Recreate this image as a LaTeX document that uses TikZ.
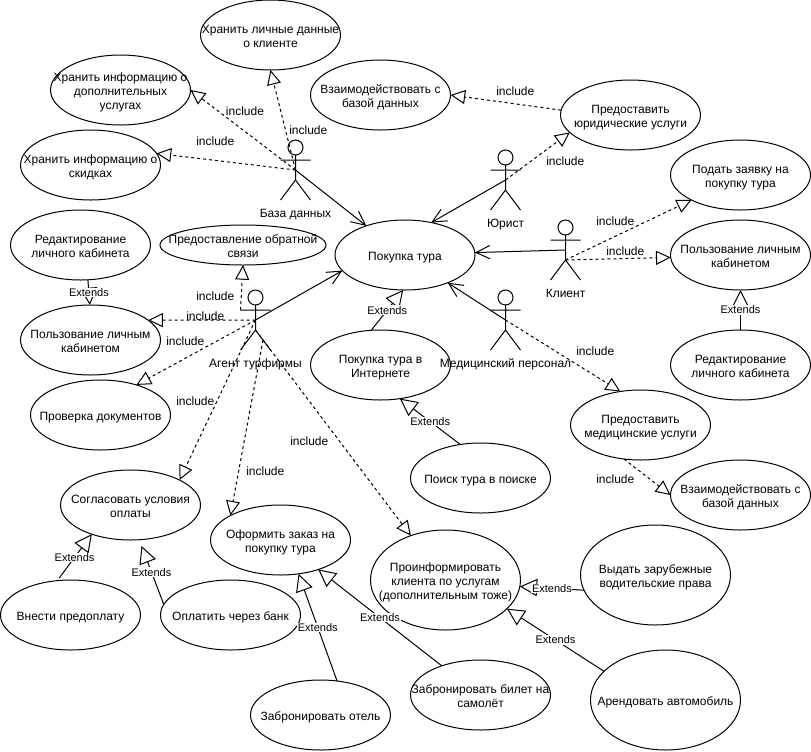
\documentclass[tikz,border=0pt]{standalone}
\usepackage{fontspec}
\setmainfont{Liberation Sans}
\usetikzlibrary{arrows.meta, positioning, shapes.geometric}

\newcommand{\umlactor}[4]{%
  \begin{scope}[shift={(#2,#3)}]
    \coordinate (#1) at (0,0);
    \coordinate (#1-hip) at (0,10);
    \coordinate (#1-arm) at (-15,-10);
    \coordinate (#1-leg) at (7.5,20);
    \draw[actorline] (0,-22.5) circle[radius=7.5];
    \draw[actorline] (0,-15) -- (0,10) (-15,-10) -- (15,-10)
      (-15,30) -- (0,10) -- (15,30);
    \node[actorlabel] (#1-label) at (0,43) {#4};
  \end{scope}}

\begin{document}
\begin{tikzpicture}[
  x=0.75pt, y=-0.75pt,
  line width=0.75pt,
  usecase/.style={ellipse, draw, inner sep=-40pt, outer sep=0pt,
                  minimum width=105pt, minimum height=52.5pt, align=center,
                  font=\fontsize{9}{10.5}\selectfont,
                  execute at begin node={\rule[-2.5pt]{0pt}{\dimexpr#1+2.5pt\relax}}},
  usecase/.default=10.5pt,
  bigcase/.style={usecase=#1, minimum width=112.5pt, minimum height=75pt},
  bigcase/.default=10.5pt,
  actorline/.style={line width=0.75pt},
  actorlabel/.style={inner sep=0pt, text height=6.5pt, text depth=0pt,
                     font=\fontsize{9}{10.5}\selectfont},
  inclabel/.style={inner sep=0pt, text height=6.5pt, text depth=0pt,
                   font=\fontsize{9}{10.5}\selectfont},
  extlabel/.style={fill=white, inner sep=0.5pt, font=\fontsize{8.25}{9.5}\selectfont},
  assoc/.style={-{Straight Barb[length=10.5pt, width=10pt]}},
  incl/.style={-{Triangle[open, length=11pt, width=10.5pt]},
               dash pattern=on 2.25pt off 2.25pt},
  ext/.style={-{Triangle[open, length=13pt, width=13pt]}},
]
\useasboundingbox (0,0) rectangle (811,751);

% ---- use cases ----
\node[usecase] (buy) at (405,255) {Покупка тура};
\node[usecase=21pt] (clientdata) at (270.5,35) {Хранить личные данные\\о клиенте};
\node[usecase=31.5pt] (extrainfo) at (120.5,90) {Хранить информацию о\\дополнительных\\услугах};
\node[usecase=21pt] (discounts) at (90.5,165) {Хранить информацию о\\скидках};
\node[usecase=21pt] (dbuse) at (380.5,95) {Взаимодействовать с\\базой данных};
\node[usecase=21pt] (legal) at (630.5,115) {Предоставить\\юридические услуги};

\node[usecase=21pt] (apply) at (740.5,175) {Подать заявку на\\покупку тура};
\node[usecase=21pt, below=7.5pt of apply] (cabinetr) {Пользование личным\\кабинетом};
\node[usecase=21pt, below=30pt of cabinetr] (editr) {Редактирование\\личного кабинета};

\node[usecase=21pt] (editl) at (80.5,245) {Редактирование\\личного кабинета};
\node[usecase=21pt, minimum width=124.5pt, minimum height=30pt] (feedback) at (243,245) {Предоставление обратной\\связи};
\node[usecase=21pt] (cabinetl) at (90.5,340) {Пользование личным\\кабинетом};
\node[usecase] (checkdocs) at (100.5,415) {Проверка документов};

\node[usecase=21pt] (online) at (380.5,365) {Покупка тура в\\Интернете};
\node[usecase] (search) at (480.5,478) {Поиск тура в поиске};
\node[usecase=21pt] (medical) at (640.5,425) {Предоставить\\медицинские услуги};
\node[usecase=21pt] (dbmed) at (740.5,495) {Взаимодействовать с\\базой данных};

\node[usecase=21pt] (terms) at (130.5,505) {Согласовать условия\\оплаты};
\node[usecase] (prepay) at (70.5,615) {Внести предоплату};
\node[usecase, right=15pt of prepay] (bankpay) {Оплатить через банк};
\node[usecase=21pt] (order) at (280.5,540) {Оформить заказ на\\покупку тура};
\node[usecase] (hotel) at (320.5,715) {Забронировать отель};
\node[usecase=21pt] (ticket) at (480.5,695) {Забронировать билет на\\самолёт};
\node[bigcase=31.5pt] (inform) at (445.5,580) {Проинформировать\\клиента по услугам\\(дополнительным тоже)};
\node[bigcase=21pt] (licence) at (655.5,575) {Выдать зарубежные\\водительские права};
\node[bigcase] (car) at (665.5,700) {Арендовать автомобиль};

% ---- actors ----
\umlactor{dbase}{295.5}{170}{База данных}
\umlactor{lawyer}{505.5}{180}{Юрист}
\umlactor{client}{565.5}{250}{Клиент}
\umlactor{agent}{255.5}{320}{Агент турфирмы}
\umlactor{medic}{505.5}{320}{Медицинский персонал}

% ---- associations ----
\draw[assoc] (dbase)  -- (buy.143);
\draw[assoc] (lawyer) -- (buy.51);
\draw[assoc] (client) -- (buy.2);
\draw[assoc] (agent)  -- (buy.194);
\draw[assoc] (medic)  -- (buy.-33);

% ---- include ----
\draw[incl] (dbase)      -- (clientdata.south);
\draw[incl] (dbase)      -- (extrainfo.east);
\draw[incl] (dbase)      -- (discounts.10);
\draw[incl] (legal.176)  -- (dbuse.east);
\draw[incl] (lawyer)     -- (legal.196);
\draw[incl] (client-hip) -- (apply.207);
\draw[incl] (client-hip) -- (cabinetr.182);
\draw[incl] (agent-arm)  -- (feedback.south);
\draw[incl] (agent)      -- (cabinetl.19);
\draw[incl] (agent)      -- (checkdocs.40);
\draw[incl] (agent)      -- (terms.27);
\draw[incl] (agent-leg)  -- (order.154);
\draw[incl] (agent-hip)  -- (inform.128);
\draw[incl] (medic)      -- (medical.121);
\draw[incl] (medical.244)-- (dbmed.west);

\foreach \x/\y [count=\i] in {245/110.7, 308.3/129.7, 215.3/141, 515.3/90.7,
    565.3/160.7, 615.3/220.7, 625.3/250.7, 595.3/350.7, 215.3/295.7,
    205.3/315.7, 185.3/340.7, 195.3/400.7, 265.3/470.7, 309.3/440.7, 615.3/478.7}
  \node[inclabel] (inc\i) at (\x,\y) {include};

% ---- extends ----
\draw[ext] (editl.-78)   -- node[extlabel] (ext1) {Extends} (cabinetl.91);
\draw[ext] (editr.north) -- node[extlabel] (ext2) {Extends} (cabinetr.south);
\draw[ext] (online.105)  -- node[extlabel] (ext3) {Extends} (buy.267);
\draw[ext] (search.121)  -- node[extlabel] (ext4) {Extends} (online.-60);
\draw[ext] (licence.192) -- node[extlabel] (ext5) {Extends} (inform.-5);
\draw[ext] (car.155)     -- node[extlabel] (ext6) {Extends} (inform.-25);
\draw[ext] (ticket.143)  -- node[extlabel] (ext7) {Extends} (order.-38);
\draw[ext] (hotel.64)    -- node[extlabel] (ext8) {Extends} (order.-62);
\draw[ext, shorten <=2.5pt] (prepay.111) -- node[extlabel] (ext9) {Extends} (terms.217);
\draw[ext, shorten >=5pt] (bankpay.171)  -- node[extlabel] (ext10) {Extends} (terms.-76);

\end{tikzpicture}
\end{document}
